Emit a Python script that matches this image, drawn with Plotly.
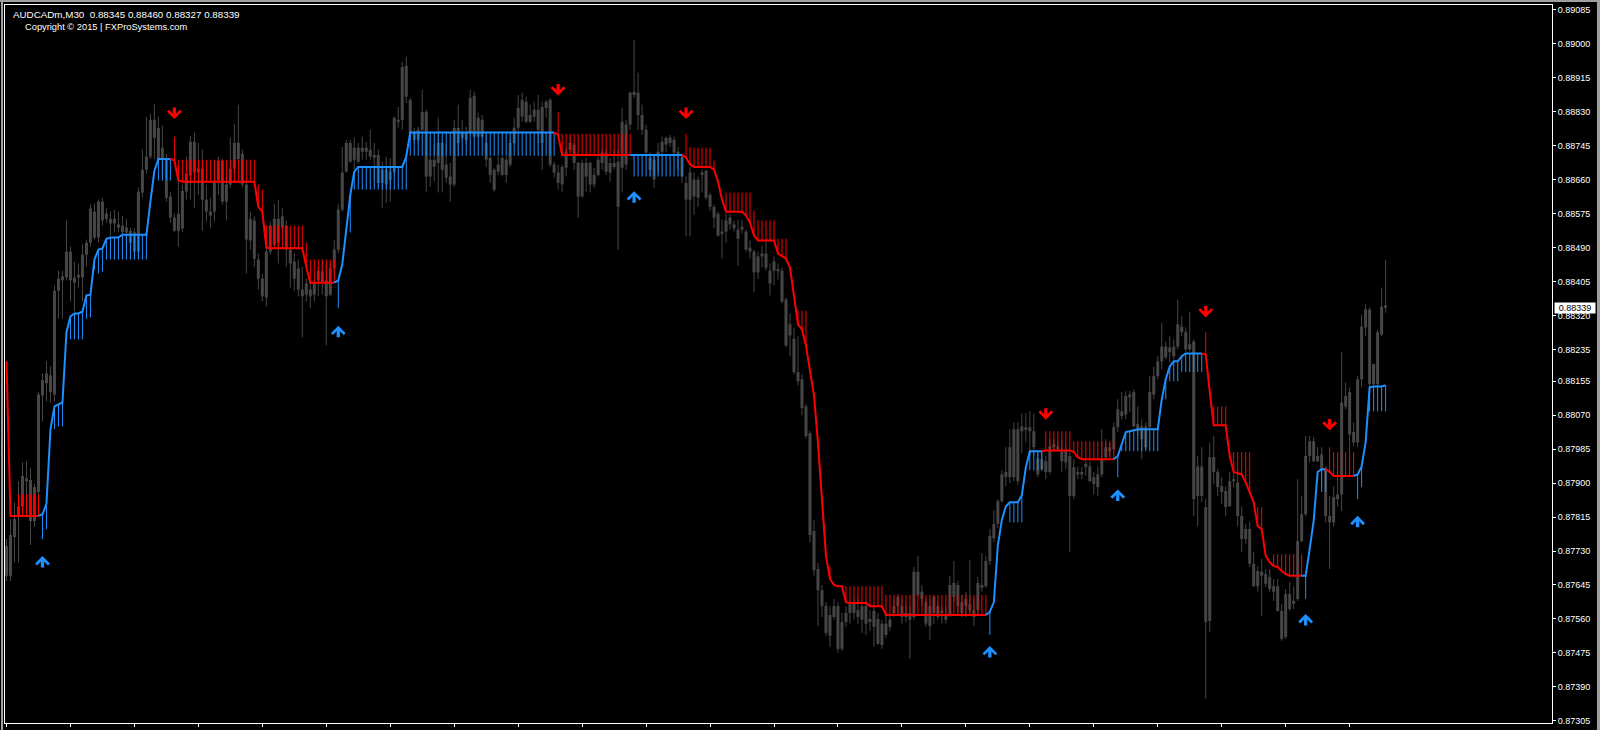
import plotly.graph_objects as go

# ---------------- data (prices in points of 0.00001 above 0.87000) ----------------
BASE = 0.87000
POINT = 0.00001

symbol_line = "AUDCADm,M30\u00a0\u00a00.88345 0.88460 0.88327 0.88339"
copyright_line = "Copyright \u00a9 2015 | FXProSystems.com"
last_price_label = "0.88339"

open_pts = [
    668, 668, 765, 818, 842, 912, 908, 805, 878, 1120,
    1150, 1170, 1122, 1382, 1418, 1415, 1480, 1415, 1415, 1415,
    1472, 1502, 1580, 1515, 1605, 1575, 1562, 1562, 1548, 1545,
    1540, 1532, 1480, 1480, 1628, 1685, 1718, 1810, 1790, 1740,
    1712, 1618, 1565, 1532, 1538, 1630, 1670, 1755, 1688, 1688,
    1610, 1570, 1580, 1658, 1708, 1605, 1648, 1688, 1752, 1725,
    1648, 1508, 1558, 1460, 1412, 1365, 1480, 1498, 1562, 1540,
    1545, 1485, 1455, 1438, 1385, 1372, 1385, 1372, 1408, 1430,
    1408, 1372, 1438, 1485, 1585, 1680, 1752, 1710, 1740, 1730,
    1740, 1735, 1722, 1722, 1685, 1648, 1680, 1680, 1810, 1810,
    1945, 1860, 1780, 1760, 1785, 1830, 1710, 1692, 1702, 1752,
    1698, 1668, 1648, 1790, 1765, 1760, 1778, 1870, 1815, 1810,
    1752, 1715, 1635, 1680, 1715, 1672, 1698, 1752, 1790, 1818,
    1855, 1805, 1818, 1835, 1752, 1840, 1860, 1698, 1678, 1648,
    1690, 1735, 1748, 1702, 1618, 1702, 1702, 1648, 1672, 1702,
    1728, 1678, 1702, 1705, 1690, 1698, 1798, 1880, 1878, 1822,
    1785, 1715, 1660, 1718, 1730, 1748, 1765, 1760, 1730, 1715,
    1652, 1610, 1660, 1615, 1672, 1682, 1622, 1592, 1575, 1525,
    1530, 1565, 1548, 1512, 1542, 1530, 1490, 1480, 1428, 1475,
    1475, 1400, 1455, 1435, 1432, 1360, 1298, 1262, 1178, 1160,
    1092, 1025, 780, 685, 632, 592, 518, 592, 592, 485,
    552, 575, 602, 582, 558, 592, 560, 580, 560, 495,
    520, 540, 575, 615, 592, 575, 558, 565, 678, 628,
    602, 542, 615, 592, 580, 558, 570, 650, 645, 575,
    610, 598, 565, 582, 638, 642, 705, 762, 798, 855,
    928, 915, 915, 1035, 1030, 1040, 1040, 1030, 962, 935,
    928, 928, 998, 992, 980, 980, 968, 868, 928, 922,
    948, 942, 898, 890, 922, 965, 980, 985, 1040, 1068,
    1072, 1122, 1128, 1048, 1042, 990, 1040, 1122, 1168, 1205,
    1242, 1228, 1218, 1242, 1292, 1278, 1235, 1255, 868, 942,
    840, 555, 965, 928, 892, 880, 842, 910, 902, 818,
    785, 785, 698, 642, 678, 672, 665, 642, 642, 580,
    515, 622, 598, 610, 755, 822, 968, 1005, 968, 972,
    935, 818, 802, 860, 872, 1118, 1128, 1002, 1002, 1160,
    1335, 1335, 1148, 1148, 1272, 1345,
]

high_pts = [
    760, 810, 852, 905, 952, 955, 938, 898, 1128, 1175,
    1205, 1192, 1395, 1432, 1432, 1558, 1492, 1455, 1450, 1498,
    1510, 1598, 1600, 1610, 1615, 1588, 1580, 1585, 1580, 1570,
    1562, 1540, 1538, 1640, 1735, 1818, 1825, 1850, 1818, 1795,
    1725, 1630, 1575, 1665, 1648, 1718, 1770, 1778, 1752, 1735,
    1648, 1615, 1710, 1718, 1712, 1675, 1765, 1800, 1848, 1735,
    1658, 1580, 1568, 1475, 1425, 1498, 1555, 1600, 1610, 1588,
    1558, 1492, 1475, 1460, 1442, 1412, 1402, 1412, 1442, 1460,
    1450, 1450, 1508, 1598, 1742, 1760, 1760, 1765, 1752, 1768,
    1755, 1785, 1752, 1735, 1705, 1718, 1715, 1818, 1842, 1955,
    1968, 1865, 1790, 1792, 1885, 1835, 1722, 1748, 1815, 1755,
    1748, 1702, 1810, 1848, 1810, 1792, 1885, 1880, 1828, 1822,
    1772, 1718, 1690, 1718, 1718, 1718, 1760, 1815, 1872, 1878,
    1868, 1848, 1855, 1872, 1855, 1860, 1865, 1705, 1698, 1698,
    1740, 1768, 1752, 1705, 1710, 1715, 1705, 1690, 1718, 1735,
    1735, 1715, 1735, 1735, 1840, 1810, 1880, 2010, 1928, 1848,
    1798, 1728, 1718, 1752, 1768, 1768, 1772, 1768, 1742, 1722,
    1668, 1692, 1678, 1668, 1685, 1685, 1628, 1598, 1580, 1560,
    1575, 1575, 1558, 1560, 1560, 1535, 1508, 1485, 1480, 1495,
    1508, 1450, 1468, 1450, 1440, 1365, 1325, 1288, 1268, 1172,
    1098, 1030, 808, 700, 645, 602, 592, 610, 602, 575,
    592, 605, 610, 610, 605, 605, 582, 592, 575, 558,
    570, 570, 610, 622, 610, 592, 592, 690, 718, 645,
    610, 610, 620, 602, 592, 592, 668, 705, 655, 620,
    628, 708, 610, 665, 725, 718, 785, 832, 860, 932,
    990, 1035, 1052, 1052, 1075, 1075, 1080, 1075, 980, 985,
    968, 1010, 1010, 1005, 1010, 992, 978, 960, 942, 940,
    960, 955, 928, 942, 1035, 1010, 1002, 1052, 1110, 1128,
    1130, 1130, 1135, 1092, 1060, 1052, 1168, 1192, 1218, 1302,
    1255, 1268, 1260, 1360, 1318, 1290, 1328, 1260, 968, 990,
    860, 1002, 1018, 935, 915, 892, 928, 928, 928, 842,
    798, 802, 728, 692, 710, 685, 685, 660, 660, 598,
    635, 652, 642, 910, 868, 1018, 1018, 1015, 990, 990,
    942, 868, 892, 928, 1228, 1152, 1140, 1052, 1168, 1322,
    1348, 1340, 1200, 1285, 1390, 1460,
]

low_pts = [
    655, 655, 702, 702, 830, 842, 745, 790, 865, 1055,
    1105, 1102, 1105, 1312, 1312, 1408, 1355, 1330, 1390, 1355,
    1442, 1492, 1510, 1502, 1545, 1552, 1520, 1528, 1528, 1510,
    1478, 1478, 1468, 1468, 1615, 1675, 1712, 1712, 1708, 1658,
    1605, 1552, 1528, 1492, 1528, 1610, 1610, 1588, 1622, 1532,
    1555, 1538, 1555, 1622, 1598, 1558, 1640, 1675, 1700, 1640,
    1425, 1485, 1442, 1385, 1355, 1342, 1472, 1492, 1450, 1528,
    1442, 1390, 1382, 1368, 1265, 1355, 1338, 1355, 1368, 1372,
    1245, 1368, 1415, 1475, 1580, 1678, 1702, 1685, 1700, 1710,
    1710, 1710, 1660, 1642, 1590, 1602, 1605, 1672, 1790, 1785,
    1852, 1760, 1752, 1752, 1778, 1630, 1642, 1655, 1628, 1628,
    1652, 1605, 1642, 1718, 1760, 1748, 1772, 1765, 1765, 1765,
    1692, 1652, 1630, 1672, 1668, 1652, 1692, 1748, 1778, 1805,
    1802, 1802, 1805, 1752, 1685, 1815, 1692, 1665, 1635, 1630,
    1668, 1728, 1685, 1565, 1615, 1630, 1628, 1640, 1668, 1685,
    1672, 1655, 1685, 1485, 1628, 1685, 1785, 1865, 1785, 1772,
    1718, 1668, 1640, 1678, 1718, 1728, 1742, 1722, 1685, 1652,
    1518, 1518, 1572, 1592, 1628, 1610, 1582, 1538, 1518, 1462,
    1502, 1535, 1530, 1445, 1525, 1480, 1462, 1378, 1412, 1440,
    1432, 1370, 1395, 1410, 1350, 1240, 1218, 1172, 1145, 1070,
    1012, 752, 668, 542, 565, 518, 490, 558, 475, 480,
    540, 548, 558, 548, 525, 520, 530, 490, 495, 485,
    512, 530, 565, 570, 548, 552, 460, 558, 615, 592,
    540, 508, 548, 558, 548, 548, 565, 602, 575, 565,
    565, 575, 542, 575, 628, 638, 695, 752, 788, 850,
    892, 900, 905, 895, 975, 1002, 968, 968, 915, 930,
    910, 922, 978, 978, 928, 935, 728, 860, 910, 910,
    918, 902, 872, 868, 915, 960, 968, 978, 1028, 1060,
    1060, 1078, 1040, 1018, 960, 985, 1035, 1110, 1160, 1185,
    1210, 1202, 1210, 1235, 1268, 1228, 1230, 818, 792, 852,
    360, 528, 898, 868, 848, 818, 840, 890, 792, 728,
    748, 690, 640, 628, 568, 640, 628, 605, 578, 505,
    510, 580, 585, 605, 752, 818, 952, 952, 952, 892,
    802, 685, 792, 842, 830, 1085, 978, 992, 990, 1140,
    1268, 1142, 1142, 1142, 1268, 1327,
]

close_pts = [
    742, 770, 810, 842, 918, 905, 805, 890, 1122, 1158,
    1175, 1128, 1382, 1412, 1408, 1480, 1408, 1402, 1422, 1472,
    1502, 1588, 1515, 1605, 1558, 1562, 1550, 1550, 1540, 1528,
    1528, 1502, 1528, 1630, 1685, 1718, 1810, 1765, 1712, 1712,
    1615, 1565, 1532, 1575, 1632, 1675, 1755, 1678, 1678, 1610,
    1580, 1580, 1658, 1708, 1605, 1648, 1688, 1752, 1712, 1648,
    1510, 1562, 1462, 1412, 1368, 1480, 1545, 1562, 1502, 1568,
    1485, 1450, 1412, 1385, 1368, 1400, 1368, 1400, 1432, 1402,
    1368, 1438, 1485, 1585, 1678, 1752, 1705, 1740, 1705, 1740,
    1730, 1718, 1715, 1652, 1652, 1685, 1660, 1815, 1805, 1942,
    1868, 1778, 1760, 1785, 1830, 1668, 1668, 1710, 1752, 1685,
    1665, 1648, 1790, 1752, 1778, 1778, 1865, 1768, 1768, 1768,
    1710, 1672, 1685, 1698, 1672, 1710, 1752, 1790, 1840, 1860,
    1805, 1822, 1835, 1785, 1842, 1855, 1698, 1678, 1652, 1692,
    1730, 1752, 1702, 1618, 1702, 1668, 1648, 1672, 1710, 1728,
    1680, 1702, 1692, 1592, 1805, 1798, 1878, 1872, 1822, 1785,
    1728, 1685, 1710, 1730, 1755, 1765, 1752, 1728, 1722, 1668,
    1610, 1678, 1618, 1660, 1678, 1615, 1592, 1565, 1520, 1530,
    1558, 1548, 1538, 1535, 1535, 1485, 1480, 1428, 1468, 1468,
    1440, 1432, 1432, 1432, 1355, 1245, 1270, 1178, 1155, 1088,
    1018, 770, 682, 632, 592, 525, 570, 565, 485, 552,
    575, 602, 575, 565, 592, 548, 552, 540, 498, 548,
    548, 558, 592, 592, 565, 565, 575, 678, 620, 610,
    548, 592, 575, 565, 575, 570, 645, 615, 592, 602,
    592, 582, 582, 650, 645, 705, 768, 798, 855, 922,
    915, 990, 1035, 905, 1042, 1035, 1030, 990, 922, 960,
    955, 992, 990, 985, 955, 952, 868, 940, 922, 928,
    940, 905, 915, 922, 960, 990, 990, 1040, 1085, 1080,
    1118, 1115, 1042, 1030, 1010, 1042, 1128, 1168, 1205, 1242,
    1215, 1240, 1242, 1298, 1278, 1235, 1248, 860, 942, 868,
    552, 965, 928, 890, 878, 840, 905, 905, 818, 760,
    760, 698, 642, 680, 668, 648, 635, 628, 580, 510,
    622, 585, 605, 755, 822, 968, 1005, 955, 955, 935,
    818, 802, 865, 872, 1102, 1092, 1022, 1028, 1160, 1292,
    1290, 1148, 1198, 1278, 1342, 1339,
]

# trend-follower indicator: main step line and the hatched band level
line_pts = [
    1205, 818, 818, 818, 818, 818, 818, 818, 818, 822,
    848, 1035, 1092, 1098, 1102, 1278, 1318, 1325, 1325, 1330,
    1370, 1372, 1460, 1485, 1488, 1512, 1515, 1515, 1515, 1522,
    1522, 1522, 1522, 1522, 1522, 1522, 1605, 1682, 1712, 1712,
    1712, 1712, 1708, 1658, 1655, 1655, 1655, 1655, 1655, 1655,
    1655, 1655, 1655, 1655, 1655, 1655, 1655, 1655, 1655, 1655,
    1655, 1655, 1655, 1592, 1580, 1490, 1488, 1488, 1488, 1488,
    1488, 1488, 1488, 1488, 1488, 1442, 1402, 1402, 1402, 1402,
    1402, 1402, 1402, 1408, 1448, 1540, 1622, 1680, 1692, 1692,
    1692, 1692, 1692, 1692, 1692, 1692, 1692, 1692, 1692, 1692,
    1718, 1778, 1778, 1778, 1778, 1778, 1778, 1778, 1778, 1778,
    1778, 1778, 1778, 1778, 1778, 1778, 1778, 1778, 1778, 1778,
    1778, 1778, 1778, 1778, 1778, 1778, 1778, 1778, 1778, 1778,
    1778, 1778, 1778, 1778, 1778, 1778, 1778, 1778, 1772, 1722,
    1722, 1722, 1722, 1722, 1722, 1722, 1722, 1722, 1722, 1722,
    1722, 1722, 1722, 1722, 1722, 1722, 1722, 1722, 1722, 1722,
    1722, 1722, 1722, 1722, 1722, 1722, 1722, 1722, 1722, 1722,
    1715, 1698, 1692, 1692, 1692, 1692, 1692, 1685, 1655, 1610,
    1580, 1580, 1580, 1580, 1580, 1570, 1552, 1520, 1508, 1508,
    1508, 1508, 1508, 1475, 1468, 1462, 1440, 1372, 1298, 1285,
    1245, 1182, 1120, 1002, 850, 718, 660, 645, 642, 642,
    602, 600, 600, 600, 600, 600, 592, 592, 592, 592,
    570, 570, 570, 570, 570, 570, 570, 570, 570, 570,
    570, 570, 570, 570, 570, 570, 570, 570, 570, 570,
    570, 570, 570, 570, 570, 570, 578, 602, 745, 808,
    842, 852, 852, 852, 870, 940, 980, 980, 980, 980,
    982, 982, 982, 982, 982, 982, 982, 978, 965, 960,
    960, 960, 960, 960, 960, 960, 960, 960, 968, 998,
    1028, 1030, 1032, 1035, 1035, 1035, 1035, 1035, 1035, 1110,
    1160, 1192, 1205, 1205, 1218, 1225, 1225, 1225, 1225, 1225,
    1222, 1130, 1045, 1045, 1045, 1045, 968, 928, 925, 922,
    902, 878, 852, 792, 785, 718, 702, 692, 690, 680,
    672, 668, 668, 668, 668, 668, 735, 805, 928, 935,
    935, 928, 918, 918, 918, 918, 918, 918, 922, 942,
    1002, 1140, 1142, 1142, 1142, 1145,
]

band_pts = [
    1205, 818, 818, 872, 872, 872, 872, 872, 872, 760,
    785, 1035, 1035, 1042, 1042, 1258, 1260, 1260, 1260, 1260,
    1312, 1315, 1435, 1425, 1430, 1460, 1460, 1460, 1460, 1460,
    1460, 1460, 1460, 1460, 1460, 1460, 1605, 1682, 1658, 1658,
    1658, 1658, 1768, 1710, 1710, 1710, 1710, 1710, 1710, 1710,
    1710, 1710, 1710, 1710, 1710, 1710, 1710, 1710, 1710, 1710,
    1710, 1710, 1710, 1648, 1635, 1545, 1545, 1545, 1545, 1545,
    1545, 1545, 1545, 1545, 1545, 1502, 1460, 1460, 1460, 1460,
    1460, 1460, 1460, 1338, 1448, 1540, 1528, 1635, 1635, 1635,
    1635, 1635, 1635, 1635, 1635, 1635, 1635, 1635, 1635, 1635,
    1635, 1720, 1720, 1720, 1720, 1720, 1720, 1720, 1720, 1720,
    1720, 1720, 1720, 1720, 1720, 1720, 1720, 1720, 1720, 1720,
    1720, 1720, 1720, 1720, 1720, 1720, 1720, 1720, 1720, 1720,
    1720, 1720, 1720, 1720, 1720, 1720, 1720, 1720, 1830, 1775,
    1775, 1775, 1775, 1775, 1775, 1775, 1775, 1775, 1775, 1775,
    1775, 1775, 1775, 1775, 1775, 1775, 1775, 1668, 1668, 1668,
    1668, 1668, 1668, 1668, 1668, 1668, 1668, 1668, 1668, 1668,
    1775, 1742, 1740, 1740, 1740, 1740, 1740, 1708, 1655, 1610,
    1628, 1628, 1628, 1628, 1628, 1628, 1628, 1582, 1558, 1558,
    1558, 1558, 1558, 1512, 1512, 1512, 1440, 1372, 1332, 1332,
    1332, 1182, 1120, 1002, 850, 718, 690, 645, 642, 642,
    642, 642, 642, 642, 642, 642, 642, 642, 642, 642,
    620, 620, 620, 620, 620, 620, 620, 620, 620, 620,
    620, 620, 620, 620, 620, 620, 620, 620, 620, 620,
    620, 620, 620, 620, 620, 620, 520, 602, 745, 808,
    842, 802, 802, 802, 802, 940, 932, 932, 932, 932,
    1030, 1030, 1030, 1030, 1030, 1030, 1030, 1005, 1005, 1005,
    1005, 1005, 1005, 1005, 1005, 1005, 1005, 1005, 915, 980,
    980, 980, 980, 980, 980, 980, 980, 980, 980, 1110,
    1110, 1155, 1155, 1155, 1178, 1178, 1178, 1178, 1178, 1178,
    1278, 1130, 1092, 1092, 1092, 1092, 978, 978, 978, 978,
    978, 978, 852, 840, 840, 718, 702, 722, 722, 722,
    722, 722, 722, 722, 722, 610, 735, 805, 928, 878,
    878, 990, 978, 978, 978, 978, 978, 978, 860, 890,
    1002, 1080, 1080, 1080, 1080, 1080,
]

# trend direction runs: (direction, number of bars)
trend_runs = [("D", 9), ("U", 33), ("D", 41), ("U", 55), ("D", 19), ("U", 13),
              ("D", 76), ("U", 14), ("D", 18), ("U", 22), ("D", 25), ("U", 6),
              ("D", 7), ("U", 8)]

# signal arrows (bar index, price level in points)
buy_bars = [9, 83, 157, 246, 278, 325, 338]
buy_pts = [701, 1278, 1615, 476, 868, 556, 802]
sell_bars = [42, 138, 170, 260, 300, 331]
sell_pts = [1828, 1887, 1828, 1075, 1331, 1048]

ytick_labels = ["0.89085", "0.89000", "0.88915", "0.88830", "0.88745", "0.88660",
                "0.88575", "0.88490", "0.88405", "0.88320", "0.88235", "0.88155",
                "0.88070", "0.87985", "0.87900", "0.87815", "0.87730", "0.87645",
                "0.87560", "0.87475", "0.87390", "0.87305"]

# ---------------- build ----------------
n = len(close_pts)
for arr in (open_pts, high_pts, low_pts, line_pts, band_pts):
    assert len(arr) == n, len(arr)

trend = []
for t, k in trend_runs:
    trend.extend([t] * k)
assert len(trend) == n, len(trend)


def price(p):
    return BASE + p * POINT


CANDLE = "#474747"
BLUE = "#1E90FF"
RED = "#FF0000"
FONT = "Liberation Sans"

bars = list(range(n))
o = [price(v) for v in open_pts]
h = [price(v) for v in high_pts]
l = [price(v) for v in low_pts]
c = [price(v) for v in close_pts]
ln = [price(v) for v in line_pts]
bd = [price(v) for v in band_pts]

fig = go.Figure()

# candle wicks
wx, wy = [], []
for i in bars:
    wx += [i, i, None]
    wy += [l[i], h[i], None]
fig.add_trace(go.Scatter(x=wx, y=wy, mode="lines", line=dict(color=CANDLE, width=1),
                         hoverinfo="skip"))

# candle bodies
body_base = [min(a, b) for a, b in zip(o, c)]
body_h = [max(abs(a - b), 2 * POINT) for a, b in zip(o, c)]
fig.add_trace(go.Bar(x=bars, y=body_h, base=body_base, width=0.75,
                     marker=dict(color=CANDLE, line=dict(width=0)), hoverinfo="skip"))

# hatch lines between the step line and the band level
for col, key in ((BLUE, "U"), (RED, "D")):
    hx, hy = [], []
    for i in bars:
        if trend[i] == key and band_pts[i] != line_pts[i]:
            hx += [i, i, None]
            hy += [ln[i], bd[i], None]
    fig.add_trace(go.Scatter(x=hx, y=hy, mode="lines", line=dict(color=col, width=1),
                             hoverinfo="skip"))

# coloured step line
start = 0
for t, k in trend_runs:
    a = max(start - 1, 0)
    b = start + k - 1
    fig.add_trace(go.Scatter(x=bars[a:b + 1], y=ln[a:b + 1], mode="lines",
                             line=dict(color=BLUE if t == "U" else RED, width=2),
                             hoverinfo="skip"))
    start += k

annotations = []
# arrows
for bi, p in zip(buy_bars, buy_pts):
    annotations.append(dict(x=bi, y=price(p), xref="x", yref="y", text="", showarrow=True,
                            ax=0, ay=13, yshift=6.5, arrowhead=4, arrowsize=0.75,
                            arrowwidth=3.3, arrowcolor=BLUE, standoff=0))
for bi, p in zip(sell_bars, sell_pts):
    annotations.append(dict(x=bi, y=price(p), xref="x", yref="y", text="", showarrow=True,
                            ax=0, ay=-13, yshift=-6.5, arrowhead=4, arrowsize=0.75,
                            arrowwidth=3.3, arrowcolor=RED, standoff=0))

# header texts
annotations.append(dict(x=0, y=1, xref="paper", yref="paper", xanchor="left", yanchor="middle",
                        xshift=6, yshift=-9, text=symbol_line, showarrow=False,
                        font=dict(family=FONT, size=9.8, color="white")))
annotations.append(dict(x=0, y=1, xref="paper", yref="paper", xanchor="left", yanchor="middle",
                        xshift=18, yshift=-21.5, text=copyright_line, showarrow=False,
                        font=dict(family=FONT, size=9.3, color="white")))

# last price box
annotations.append(dict(x=1, y=float(last_price_label), xref="paper", yref="y",
                        xanchor="left", yanchor="middle", xshift=2, text=last_price_label,
                        showarrow=False, bgcolor="white", borderpad=0, width=40, height=10,
                        font=dict(family=FONT, size=9, color="black")))

# outer window frame strips
shapes = [
    dict(type="rect", xref="paper", yref="paper", x0=-4 / 1548, x1=-2 / 1548, y0=-0.01, y1=1.01,
         fillcolor="#a0a0a0", line=dict(width=0), layer="above"),
    dict(type="rect", xref="paper", yref="paper", x0=-0.01, x1=1.04, y0=1 + 3 / 720, y1=1 + 5 / 720,
         fillcolor="#a0a0a0", line=dict(width=0), layer="above"),
    dict(type="rect", xref="paper", yref="paper", x0=(1597 - 4) / 1548, x1=(1600 - 4) / 1548,
         y0=-0.01, y1=1.01, fillcolor="#a0a0a0", line=dict(width=0), layer="above"),
]

fig.update_layout(
    width=1600, height=730,
    margin=dict(l=4, r=48, t=5, b=5),
    paper_bgcolor="black", plot_bgcolor="black",
    showlegend=False, hovermode=False,
    annotations=annotations, shapes=shapes,
    xaxis=dict(range=[-0.375, 386.625], showgrid=False, zeroline=False,
               showline=True, linecolor="white", linewidth=1, mirror=True,
               ticks="outside", ticklen=3, tickcolor="white",
               tickvals=list(range(0, n, 16)), showticklabels=False),
    yaxis=dict(side="right", range=[0.872993, 0.890975], showgrid=False, zeroline=False,
               showline=True, linecolor="white", linewidth=1, mirror=True,
               ticks="outside", ticklen=3, tickcolor="white",
               tickvals=[float(s) for s in ytick_labels], ticktext=ytick_labels,
               tickfont=dict(family=FONT, size=9, color="white")),
)

fig.write_html("out.html", config={"displayModeBar": False},
               post_script="document.body.style.margin='0';document.body.style.background='black';")
